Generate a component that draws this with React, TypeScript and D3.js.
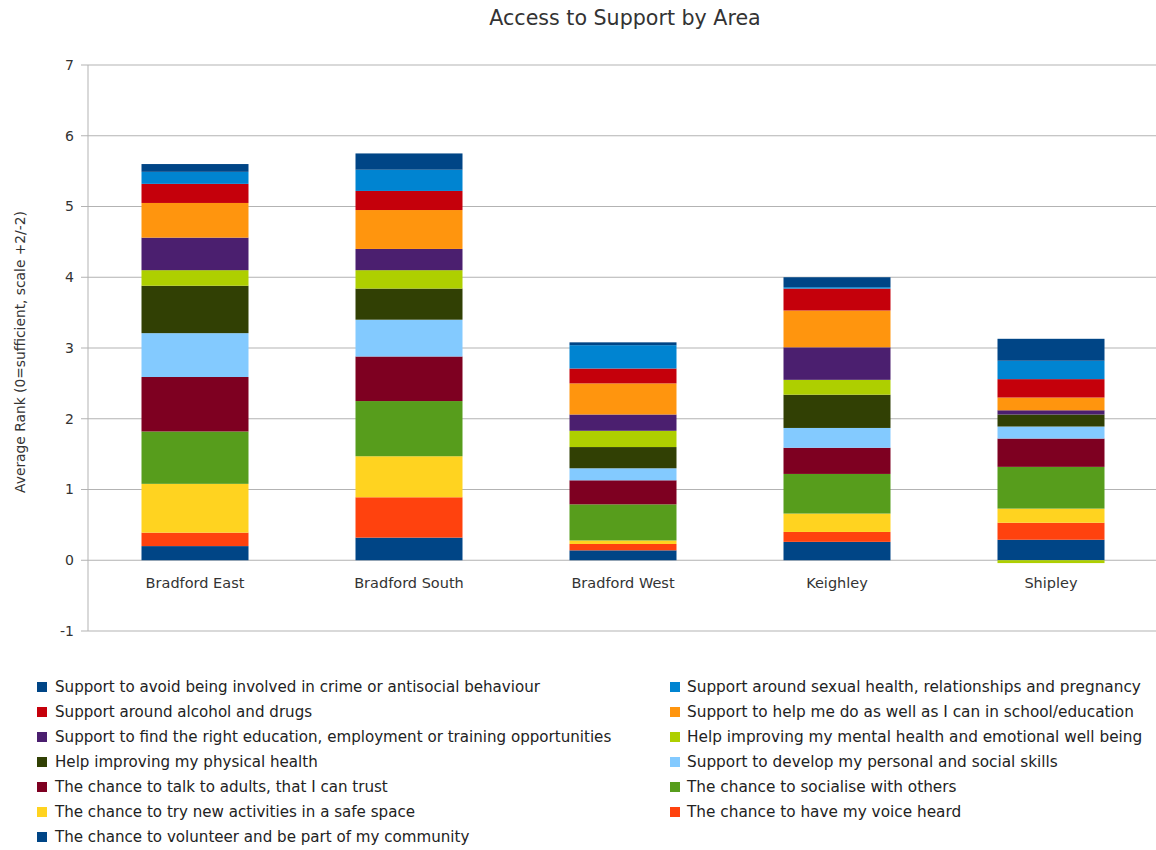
import React from "react";
import * as d3 from "d3";

// Areas along the x axis
const areas = ["Bradford East", "Bradford South", "Bradford West", "Keighley", "Shipley"];

// Series, listed bottom of stack first (values per area, same order as `areas`)
const volunteer = [0.2, 0.32, 0.14, 0.26, 0.29];
const voiceHeard = [0.19, 0.57, 0.09, 0.14, 0.24];
const newActivities = [0.69, 0.58, 0.05, 0.26, 0.2];
const socialise = [0.74, 0.78, 0.51, 0.56, 0.59];
const talkAdults = [0.77, 0.63, 0.34, 0.37, 0.4];
const personalSkills = [0.62, 0.52, 0.17, 0.28, 0.17];
const physicalHealth = [0.67, 0.44, 0.3, 0.47, 0.17];
const mentalHealth = [0.22, 0.26, 0.23, 0.21, -0.04];
const findEducation = [0.46, 0.3, 0.23, 0.46, 0.06];
const school = [0.49, 0.55, 0.44, 0.52, 0.18];
const alcohol = [0.27, 0.27, 0.21, 0.31, 0.26];
const sexualHealth = [0.17, 0.3, 0.33, 0.02, 0.26];
const crime = [0.11, 0.23, 0.04, 0.14, 0.31];

const seriesNames = [
  "The chance to volunteer and be part of my community",
  "The chance to have my voice heard",
  "The chance to try new activities in a safe space",
  "The chance to socialise with others",
  "The chance to talk to adults, that I can trust",
  "Support to develop my personal and social skills",
  "Help improving my physical health",
  "Help improving my mental health and emotional well being",
  "Support to find the right education, employment or training opportunities",
  "Support to help me do as well as I can in school/education",
  "Support around alcohol and drugs",
  "Support around sexual health, relationships and pregnancy",
  "Support to avoid being involved in crime or antisocial behaviour",
];
const seriesValues = [
  volunteer, voiceHeard, newActivities, socialise, talkAdults, personalSkills,
  physicalHealth, mentalHealth, findEducation, school, alcohol, sexualHealth, crime,
];
const seriesColors = [
  "#004586", "#ff420e", "#ffd320", "#579d1c", "#7e0021", "#83caff",
  "#314004", "#aecf00", "#4b1f6f", "#ff950e", "#c5000b", "#0084d1", "#004586",
];

const yTicks = [-1, 0, 1, 2, 3, 4, 5, 6, 7];

const W = 1156;
const H = 850;

export default function App() {
  const x = d3.scaleBand<string>().domain(areas).range([88, 1158]).paddingInner(0.5).paddingOuter(0.25);
  const y = d3.scaleLinear().domain([-1, 7]).range([631, 65]);

  const rows = areas.map((a, i) => {
    const r: Record<string, number | string> = { area: a };
    seriesNames.forEach((n, s) => (r[n] = seriesValues[s][i]));
    return r;
  });
  const stacked = d3
    .stack<Record<string, number | string>>()
    .keys(seriesNames)
    .value((d, k) => d[k] as number)
    .offset(d3.stackOffsetDiverging)(rows);

  // Legend is listed top of stack first, in two columns
  const legendOrder = seriesNames.map((_, i) => seriesNames.length - 1 - i);

  return (
    <svg
      width={W}
      height={H}
      style={{ position: "absolute", left: 0, top: 0, background: "#fff" }}
    >
      <rect x={0} y={0} width={W} height={H} fill="#fff" />
      <text
        x={625}
        y={25}
        textAnchor="middle"
        fontFamily="DejaVu Sans"
        fontSize={20.6}
        fill="#333"
      >
        Access to Support by Area
      </text>

      {/* grid and y axis */}
      {yTicks.map((t) => (
        <g key={t}>
          <line x1={81} x2={1158} y1={y(t)} y2={y(t)} stroke="#b3b3b3" strokeWidth={1} />
          <text
            x={74}
            y={y(t)}
            dy="0.35em"
            textAnchor="end"
            fontFamily="DejaVu Sans"
            fontSize={14}
            fill="#333"
          >
            {t}
          </text>
        </g>
      ))}
      <line x1={88} x2={88} y1={y(-1)} y2={y(7)} stroke="#b3b3b3" strokeWidth={1} />

      <text
        transform={`translate(25,${(y(-1) + y(7)) / 2 + 4}) rotate(-90)`}
        textAnchor="middle"
        fontFamily="DejaVu Sans"
        fontSize={13.8}
        fill="#333"
      >
        Average Rank (0=sufficient, scale +2/-2)
      </text>

      {/* stacked bars */}
      {stacked.map((layer, s) => (
        <g key={layer.key} fill={seriesColors[s]}>
          {layer.map((seg, i) => (
            <rect
              key={i}
              x={x(areas[i])}
              width={x.bandwidth()}
              y={y(Math.max(seg[0], seg[1]))}
              height={Math.abs(y(seg[0]) - y(seg[1]))}
            />
          ))}
        </g>
      ))}

      {/* category labels */}
      {areas.map((a) => (
        <text
          key={a}
          x={(x(a) as number) + x.bandwidth() / 2}
          y={588}
          textAnchor="middle"
          fontFamily="DejaVu Sans"
          fontSize={14.5}
          fill="#333"
        >
          {a}
        </text>
      ))}

      {/* legend */}
      {legendOrder.map((s, i) => {
        const col = i % 2;
        const row = Math.floor(i / 2);
        const cy = 687 + row * 25;
        const sx = col === 0 ? 37 : 670;
        const tx = col === 0 ? 55 : 687;
        return (
          <g key={seriesNames[s]}>
            <rect x={sx} y={cy - 5} width={10} height={10} fill={seriesColors[s]} />
            <text
              x={tx}
              y={cy}
              dy="0.35em"
              fontFamily="DejaVu Sans"
              fontSize={col === 0 ? 15.1 : 15.3}
              fill="#222"
            >
              {seriesNames[s]}
            </text>
          </g>
        );
      })}
    </svg>
  );
}
